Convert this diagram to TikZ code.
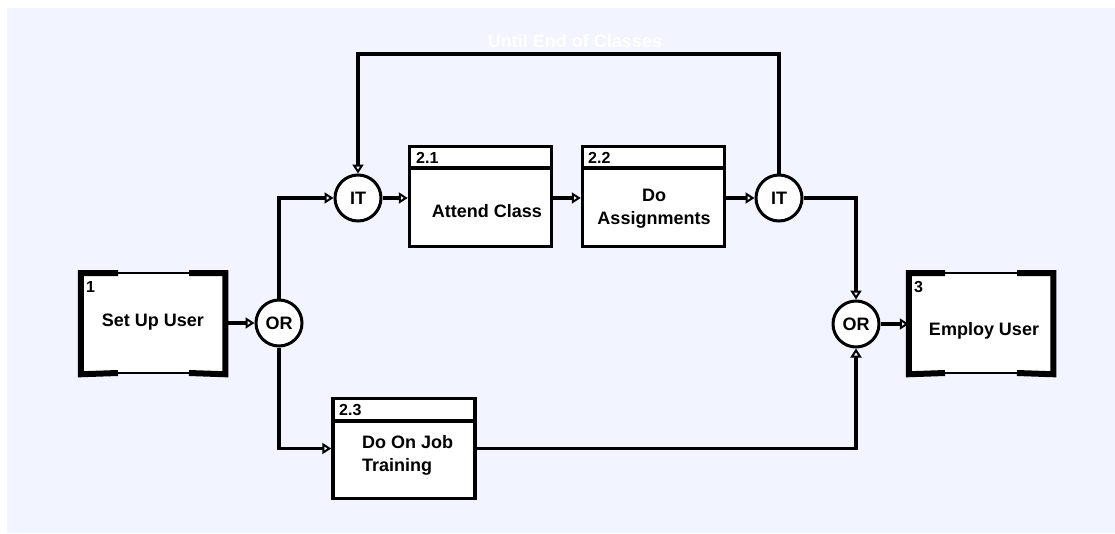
\documentclass[tikz,border=0pt]{standalone}
\usepackage{fontspec}
\setmainfont{Liberation Sans}
\usepackage{xcolor}
\usepackage{tikz}
\usetikzlibrary{arrows.meta}

\definecolor{paleblue}{RGB}{242,245,255}

\begin{document}
\begin{tikzpicture}[
    x=1pt, y=-1pt,
    font=\bfseries\fontsize{18}{23}\selectfont,
    uob/.style={draw, fill=white, line width=2.5pt, minimum width=142pt, minimum height=100pt, inner sep=0pt},
    sub/.style={draw, fill=white, line width=3.5pt, minimum width=142pt, minimum height=100pt, inner sep=0pt},
    junc/.style={draw, circle, fill=white, line width=3pt, minimum size=46pt, inner sep=0pt},
    num/.style={anchor=west, inner sep=0pt, font=\bfseries\fontsize{16}{18}\selectfont},
    txt/.style={align=center, inner sep=0pt},
    arr/.style={-{Triangle[open, fill=white, length=9pt, width=11pt, line width=2pt]}, line width=3.5pt},
    thickedge/.style={line width=6pt}
]
\fill[white] (0,0) rectangle (1115,533);
\fill[paleblue] (7,8) rectangle (1115,533);
\useasboundingbox (0,0) rectangle (1115,533);

% units of behaviour
\node[uob] (setup) at (153,323) {};
\draw[thickedge] (118,273) -| (setup.south west) -- (118,373);
\draw[thickedge] (189,273) -| (setup.south east) -- (189,373);
\node[num] at (86,287) {1};
\node[txt] at (153,322) {Set Up User};

\node[uob] (employ) at (981,323) {};
\draw[thickedge] (945,273) -| (employ.south west) -- (945,373);
\draw[thickedge] (1017,273) -| (employ.south east) -- (1017,373);
\node[num] at (914,287) {3};
\node[txt] at (984,331) {Employ User};

\node[sub] (attend) at (480.5,196.5) {};
\draw[line width=3.5pt] (attend.west |- 0,168) -- (attend.east |- 0,168);
\node[num] at (416,158) {2.1};
\node[txt] at (487,211) {Attend Class};

\node[sub] (assign) at (653.5,196.5) {};
\draw[line width=3.5pt] (assign.west |- 0,168) -- (assign.east |- 0,168);
\node[num] at (588,158) {2.2};
\node[txt] at (654,209) {Do\\Assignments};

\node[sub] (ojt) at (404,448.5) {};
\draw[line width=3.5pt] (ojt.west |- 0,421) -- (ojt.east |- 0,421);
\node[num] at (339,410) {2.3};
\node[txt, align=left, anchor=west] at (362,455) {Do On Job\\Training};

% junctions
\node[junc] (or1) at (279,323) {OR};
\node[junc] (it1) at (358,198) {IT};
\node[junc] (it2) at (779,198) {IT};
\node[junc] (or2) at (856,324) {OR};

\coordinate (loop) at (568,54);
\node[white, inner sep=0pt] at (575,41) {Until End of Classes};

% links
\draw[arr] (setup.east |- or1) -- (or1.west);
\draw[arr] (or1.north) |- (it1.west);
\draw[arr] (or1.south) |- (ojt.west);
\draw[arr] (it1.east) -- (it1 -| attend.west);
\draw[arr] (attend.east |- it1) -- (assign.west |- it1);
\draw[arr] (assign.east |- it2) -- (it2.west);
\draw[arr] (it2.east) -| (or2.north);
\draw[arr] (ojt.east) -| (or2.south);
\draw[arr] (or2.east) -- (or2 -| employ.west);
\draw[arr] (it2.north) -- (it2.north |- loop) -| (it1.north);
\end{tikzpicture}
\end{document}
